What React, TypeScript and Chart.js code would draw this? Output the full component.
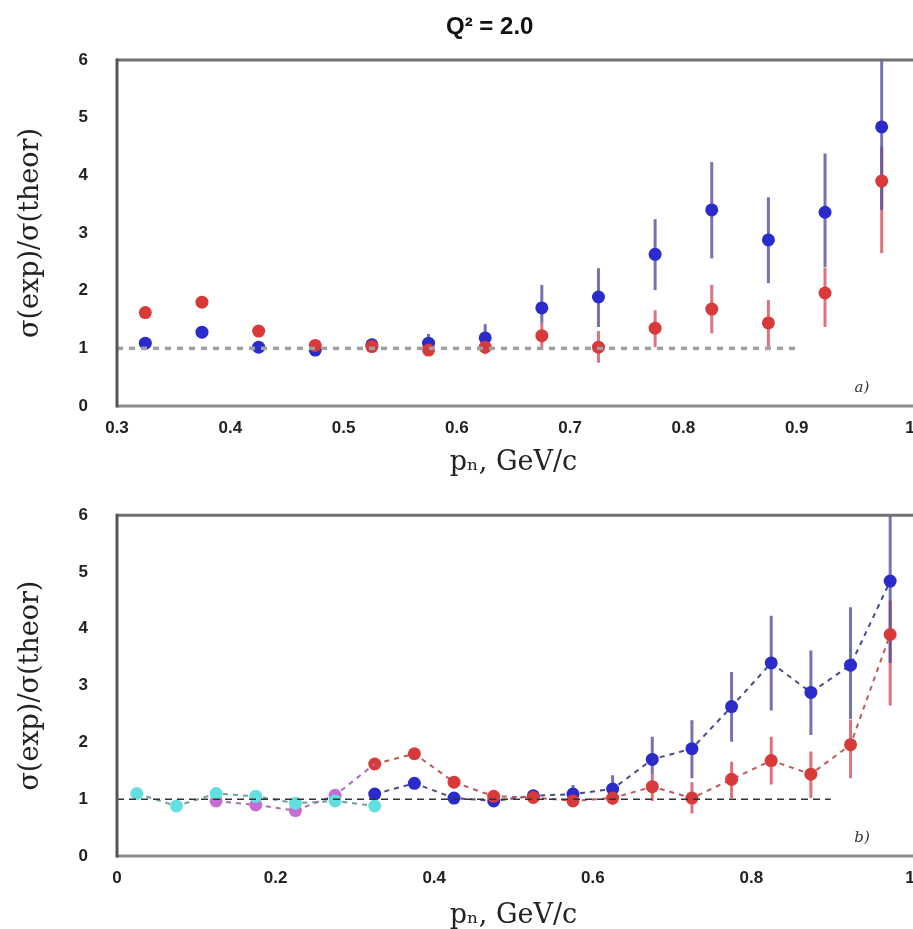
import React, { useEffect, useRef } from "react";
import { Chart, registerables } from "chart.js";
Chart.register(...registerables);

// ---- data ----
const pX = [0.325, 0.375, 0.425, 0.475, 0.525, 0.575, 0.625, 0.675, 0.725, 0.775, 0.825, 0.875, 0.925, 0.975];
const redY = [1.62, 1.8, 1.3, 1.05, 1.03, 0.97, 1.02, 1.22, 1.02, 1.35, 1.68, 1.44, 1.96, 3.9];
const redLo = [null, null, null, null, null, 0.88, 0.9, 0.97, 0.75, 1.02, 1.26, 1.02, 1.37, 2.65];
const redHi = [null, null, null, null, null, 1.05, 1.15, 1.44, 1.3, 1.66, 2.1, 1.84, 2.4, 4.5];
const blueY = [1.09, 1.28, 1.02, 0.97, 1.06, 1.09, 1.18, 1.7, 1.89, 2.63, 3.4, 2.88, 3.36, 4.84];
const blueLo = [null, null, null, null, null, 1.0, 0.97, 1.44, 1.37, 2.01, 2.56, 2.13, 2.41, 3.4];
const blueHi = [null, null, null, null, null, 1.25, 1.42, 2.1, 2.39, 3.24, 4.23, 3.62, 4.38, 6.3];
const cyanX = [0.025, 0.075, 0.125, 0.175, 0.225, 0.275, 0.325];
const cyanY = [1.1, 0.88, 1.1, 1.05, 0.93, 0.97, 0.88];
const magX = [0.125, 0.175, 0.225, 0.275];
const magY = [0.97, 0.9, 0.8, 1.07];
const refTopX = [0.3, 0.9];
const refBotX = [0, 0.9];
const refY = [1, 1];
const yTicks = [0, 1, 2, 3, 4, 5, 6];
const TITLE = "Q² = 2.0";

const pts = (xs: number[], ys: number[]) => xs.map((x, i) => ({ x, y: ys[i] }));

const RED = "#d83a3a";
const BLUE = "#2b2bcc";

const errorBarPlugin = {
  id: "errbars",
  beforeDatasetsDraw(chart: any) {
    const ctx = chart.ctx;
    const ys = chart.scales.y;
    const a = chart.chartArea;
    chart.data.datasets.forEach((ds: any, i: number) => {
      if (!ds.errLo) return;
      const meta = chart.getDatasetMeta(i);
      ctx.save();
      ctx.beginPath();
      ctx.rect(a.left, a.top, a.right - a.left, a.bottom - a.top);
      ctx.clip();
      ctx.strokeStyle = ds.errColor;
      ctx.lineWidth = 3;
      meta.data.forEach((el: any, j: number) => {
        const lo = ds.errLo[j];
        const hi = ds.errHi[j];
        if (lo == null || hi == null) return;
        ctx.beginPath();
        ctx.moveTo(el.x, ys.getPixelForValue(lo));
        ctx.lineTo(el.x, ys.getPixelForValue(hi));
        ctx.stroke();
      });
      ctx.restore();
    });
  },
};

const framePlugin = {
  id: "frame",
  afterDatasetsDraw(chart: any, _args: any, opts: any) {
    const ctx = chart.ctx;
    const a = chart.chartArea;
    ctx.save();
    ctx.lineWidth = 3;
    ctx.strokeStyle = "#707070";
    ctx.beginPath();
    ctx.moveTo(a.left, a.top);
    ctx.lineTo(a.right + 20, a.top);
    ctx.stroke();
    ctx.strokeStyle = "#8a8a8a";
    ctx.beginPath();
    ctx.moveTo(a.left, a.bottom);
    ctx.lineTo(a.right + 20, a.bottom);
    ctx.stroke();
    ctx.strokeStyle = "#555";
    ctx.beginPath();
    ctx.moveTo(a.left, a.top - 1.5);
    ctx.lineTo(a.left, a.bottom + 1.5);
    ctx.stroke();
    if (opts && opts.label) {
      ctx.fillStyle = "#333";
      ctx.font = "italic 15px 'DejaVu Serif', serif";
      ctx.textAlign = "center";
      ctx.textBaseline = "middle";
      ctx.fillText(opts.label, a.right - 48, a.bottom - 18);
    }
    if (opts && opts.title) {
      ctx.fillStyle = "#111";
      ctx.font = "bold 24px 'Liberation Sans', Arial, sans-serif";
      ctx.textAlign = "center";
      ctx.textBaseline = "middle";
      ctx.fillText(opts.title, a.left + (a.right - a.left) * 0.47, 27);
    }
    ctx.restore();
  },
};

function makeOptions(xmin: number, xmax: number, step: number, xHeight: number, label: string, title: string, padTop: number) {
  return {
    animation: false,
    responsive: false,
    layout: { padding: { left: 0, right: 20, top: padTop, bottom: 0 } },
    plugins: {
      legend: { display: false },
      tooltip: { enabled: false },
      frame: { label, title },
      title: { display: false },
    },
    scales: {
      x: {
        type: "linear",
        min: xmin,
        max: xmax,
        grid: { display: false, drawTicks: false },
        border: { display: false },
        ticks: {
          stepSize: step,
          padding: 12,
          color: "#222",
          font: { family: "'Liberation Sans', Arial, sans-serif", weight: "bold", size: 17 },
          callback: (v: any) => String(+(+v).toFixed(2)),
        },
        title: {
          display: true,
          text: "pₙ, GeV/c",
          color: "#222",
          font: { family: "'DejaVu Serif', serif", size: 27, lineHeight: 1 },
          padding: { top: 0, bottom: 0 },
        },
        afterFit(s: any) {
          s.height = xHeight;
        },
      },
      y: {
        type: "linear",
        min: 0,
        max: 6,
        grid: { display: false, drawTicks: false },
        border: { display: false },
        afterBuildTicks(s: any) {
          s.ticks = yTicks.map((v) => ({ value: v }));
        },
        ticks: {
          padding: 29,
          color: "#222",
          font: { family: "'Liberation Sans', Arial, sans-serif", weight: "bold", size: 17 },
        },
        title: {
          display: true,
          text: "σ(exp)/σ(theor)",
          color: "#222",
          font: { family: "'DejaVu Serif', serif", size: 27, lineHeight: 1.2 },
          padding: { top: 15, bottom: 0 },
        },
        afterFit(s: any) {
          s.width = 117;
        },
      },
    },
  };
}

export default function App() {
  const topRef = useRef<HTMLCanvasElement>(null);
  const botRef = useRef<HTMLCanvasElement>(null);

  useEffect(() => {
    const topChart = new Chart(topRef.current as HTMLCanvasElement, {
      type: "scatter",
      data: {
        datasets: [
          {
            type: "line",
            data: pts(refTopX, refY),
            borderColor: "#a0a0a0",
            borderWidth: 3.5,
            borderDash: [6, 6],
            pointRadius: 0,
            fill: false,
          },
          {
            data: pts(pX, redY),
            errLo: redLo,
            errHi: redHi,
            errColor: "rgba(215,90,100,0.85)",
            backgroundColor: RED,
            borderColor: RED,
            pointRadius: 6.5,
            pointBorderWidth: 0,
          },
          {
            data: pts(pX, blueY),
            errLo: blueLo,
            errHi: blueHi,
            errColor: "rgba(80,80,160,0.8)",
            backgroundColor: BLUE,
            borderColor: BLUE,
            pointRadius: 6.5,
            pointBorderWidth: 0,
          },
        ] as any,
      },
      options: makeOptions(0.3, 1, 0.1, 70, "a)", TITLE, 60) as any,
      plugins: [errorBarPlugin, framePlugin],
    });

    const botChart = new Chart(botRef.current as HTMLCanvasElement, {
      type: "scatter",
      data: {
        datasets: [
          {
            type: "line",
            data: pts(refBotX, refY),
            borderColor: "#333",
            borderWidth: 1.5,
            borderDash: [7, 5],
            pointRadius: 0,
            fill: false,
          },
          {
            type: "line",
            data: pts(cyanX, cyanY),
            borderColor: "#6f9ea0",
            borderWidth: 2,
            borderDash: [5, 5],
            backgroundColor: "#62e0e0",
            pointBorderWidth: 0,
            pointRadius: 6.5,
            fill: false,
          },
          {
            type: "line",
            data: [...pts(magX, magY), { x: pX[0], y: redY[0] }],
            borderColor: "#a270b0",
            borderWidth: 2,
            borderDash: [5, 5],
            backgroundColor: "#c46ed4",
            pointBorderWidth: 0,
            pointRadius: [6.5, 6.5, 6.5, 6.5, 0],
            fill: false,
          },
          {
            type: "line",
            data: pts(pX, redY),
            errLo: redLo,
            errHi: redHi,
            errColor: "rgba(215,90,100,0.85)",
            borderColor: "#c05a5a",
            borderWidth: 2,
            borderDash: [5, 5],
            backgroundColor: RED,
            pointBorderWidth: 0,
            pointRadius: 6.5,
            fill: false,
          },
          {
            type: "line",
            data: pts(pX, blueY),
            errLo: blueLo,
            errHi: blueHi,
            errColor: "rgba(80,80,160,0.8)",
            borderColor: "#4a4a88",
            borderWidth: 2,
            borderDash: [5, 5],
            backgroundColor: BLUE,
            pointBorderWidth: 0,
            pointRadius: 6.5,
            fill: false,
          },
        ] as any,
      },
      options: makeOptions(0, 1, 0.2, 73, "b)", "", 34) as any,
      plugins: [errorBarPlugin, framePlugin],
    });

    return () => {
      topChart.destroy();
      botChart.destroy();
    };
  }, []);

  return (
    <div style={{ position: "fixed", left: 0, top: 0, width: 913, height: 929, overflow: "hidden", background: "#fff" }}>
      <canvas ref={topRef} width={930} height={476} style={{ display: "block", width: 930, height: 476 }} />
      <canvas ref={botRef} width={930} height={453} style={{ display: "block", width: 930, height: 453 }} />
    </div>
  );
}
